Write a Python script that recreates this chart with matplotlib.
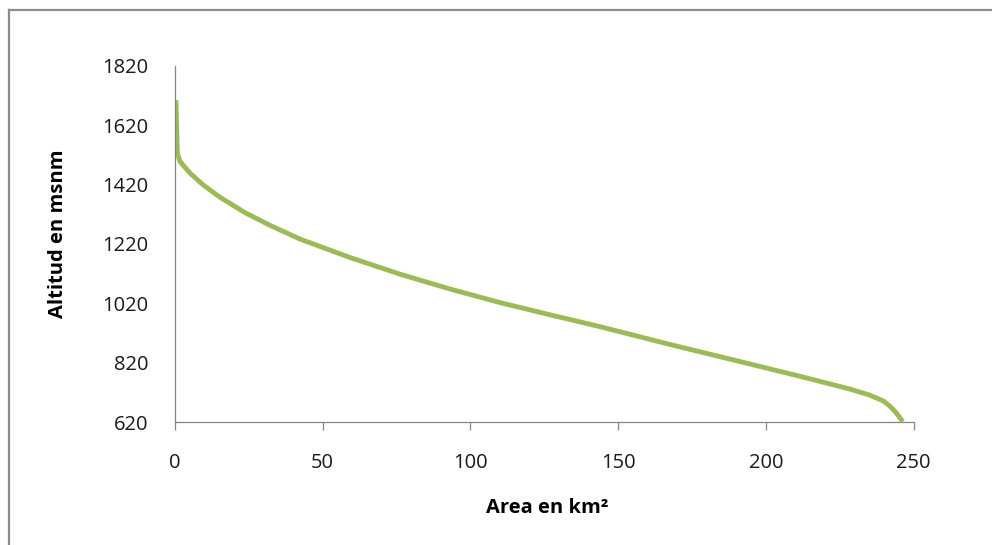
import matplotlib
matplotlib.use("Agg")
import matplotlib.pyplot as plt
from matplotlib.lines import Line2D

plt.rcParams['font.family'] = ['Open Sans', 'DejaVu Sans']

# Curva hipsometrica: area acumulada (km2) vs altitud (msnm)
area_km2 = [0.4, 0.9, 1.8, 5.2, 9.7, 15.3, 23.8, 32.3, 42.4, 59.3, 76.2, 93.1,
            110.1, 127.0, 143.9, 166.4, 189.0, 211.5, 228.4, 235.0, 239.7,
            242.0, 244.0, 246.3]
altitud = [1704, 1525, 1497, 1458, 1418, 1377, 1325, 1282, 1236, 1174, 1118, 1068,
           1022, 981, 941, 884, 829, 774, 731, 711, 691,
           673, 652, 621]

x_ticks = [0, 50, 100, 150, 200, 250]
y_ticks = [620, 820, 1020, 1220, 1420, 1620, 1820]

fig = plt.figure(figsize=(9.92, 5.45), dpi=100)
ax = fig.add_axes([174.7 / 992, 1 - 422 / 545, 739 / 992, 356.3 / 545])

ax.plot(area_km2, altitud, color='#9BBB59', linewidth=3.5,
        solid_joinstyle='round', solid_capstyle='butt')

ax.set_xlim(0, 250)
ax.set_ylim(620, 1820)
ax.set_xticks(x_ticks)
ax.set_yticks(y_ticks)

for s in ['top', 'right']:
    ax.spines[s].set_visible(False)
for s in ['left', 'bottom']:
    ax.spines[s].set_color('#868686')
    ax.spines[s].set_linewidth(0.9)

ax.tick_params(axis='x', direction='out', length=6, width=0.9, color='#868686',
               pad=16, labelsize=14.5, labelcolor='#1a1a1a')
ax.tick_params(axis='y', length=0, pad=19, labelsize=14.5, labelcolor='#1a1a1a')

fig.text(547 / 992, 1 - 508 / 545, 'Area en km²', ha='center', va='center',
         fontsize=14.5, fontweight='bold')
fig.text(58 / 992, 1 - 234 / 545, 'Altitud en msnm', ha='center', va='center',
         rotation=90, fontsize=14.5, fontweight='bold')

# marco del grafico (solo borde superior e izquierdo visibles)
fig.add_artist(Line2D([8.5 / 992, 1.0], [1 - 10 / 545, 1 - 10 / 545],
                      transform=fig.transFigure, color='#8c8c8c', linewidth=1.6))
fig.add_artist(Line2D([8.5 / 992, 8.5 / 992], [0, 1 - 10 / 545],
                      transform=fig.transFigure, color='#8c8c8c', linewidth=1.6))

fig.savefig('out.png', dpi=100, facecolor='white')
